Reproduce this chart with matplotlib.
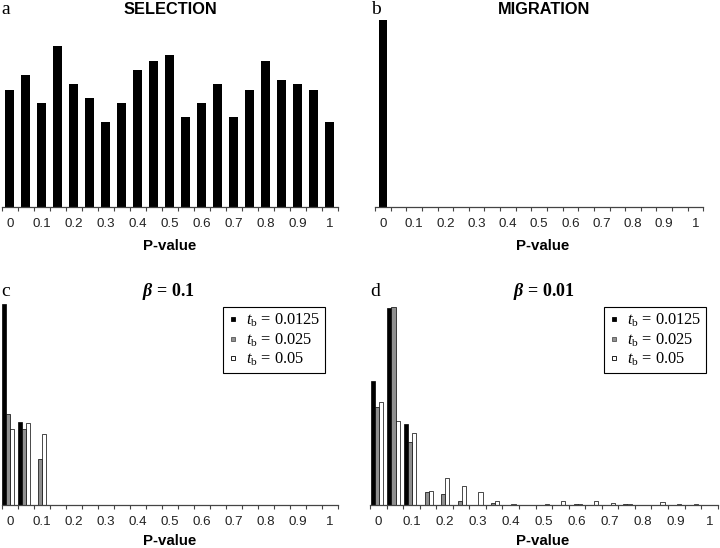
import numpy as np
import matplotlib
matplotlib.use("Agg")
import matplotlib.pyplot as plt
from matplotlib.lines import Line2D

# P-value bins (bin centres)
p_bins = [0, 0.05, 0.1, 0.15, 0.2, 0.25, 0.3, 0.35, 0.4, 0.45, 0.5,
          0.55, 0.6, 0.65, 0.7, 0.75, 0.8, 0.85, 0.9, 0.95, 1.0]
tick_labels = ["0", "0.1", "0.2", "0.3", "0.4", "0.5", "0.6", "0.7", "0.8", "0.9", "1"]

# a: selection
selection = [117.3, 131.7, 104, 160.7, 123, 108.7, 84.7, 104, 137.3, 146.3, 151.7,
             90, 104, 123, 90, 117.3, 146.3, 127.3, 123, 117.3, 84.7]
# b: migration
migration = [187, 0, 0, 0, 0, 0, 0, 0, 0, 0, 0, 0, 0, 0, 0, 0, 0, 0, 0, 0, 0]

# c: beta = 0.1
c_t0125 = [201, 83, 0, 0, 0, 0, 0, 0, 0, 0, 0, 0, 0, 0, 0, 0, 0, 0, 0, 0, 0]
c_t025 = [91, 76, 46, 0, 0, 0, 0, 0, 0, 0, 0, 0, 0, 0, 0, 0, 0, 0, 0, 0, 0]
c_t05 = [76, 82, 71, 0, 0, 0, 0, 0, 0, 0, 0, 0, 0, 0, 0, 0, 0, 0, 0, 0, 0]

# d: beta = 0.01
d_t0125 = [124, 196.7, 81, 0, 0, 0, 0, 0, 0, 0, 0, 0, 0, 0, 0, 0, 0, 0, 0, 0, 0]
d_t025 = [98, 198, 62.7, 13, 11.3, 4, 0, 2, 0, 0, 0, 0, 1, 0, 0, 1, 0, 0, 0, 0, 0]
d_t05 = [103, 84, 72, 14.3, 27, 19.3, 13, 4, 1, 0, 1, 4, 1, 4, 2, 1, 0, 3, 1, 1, 0]

legend_labels = [r"$t_{\mathrm{b}}$ = 0.0125", r"$t_{\mathrm{b}}$ = 0.025", r"$t_{\mathrm{b}}$ = 0.05"]
colors = ["#000000", "#8f8f8f", "#ffffff"]

plt.rcParams["font.family"] = ["Liberation Sans", "DejaVu Sans"]
plt.rcParams["mathtext.fontset"] = "custom"
plt.rcParams["mathtext.rm"] = "Liberation Serif"
plt.rcParams["mathtext.it"] = "Liberation Serif:italic"
plt.rcParams["mathtext.bf"] = "Liberation Serif:bold"
plt.rcParams["mathtext.bfit"] = "Liberation Serif:italic:bold"

W, H = 720, 548


def fx(x):
    return x / W


def fy(y):
    return 1 - y / H


def setup_axis(ax, ymax):
    for s in ["top", "left", "right"]:
        ax.spines[s].set_visible(False)
    ax.spines["bottom"].set_color("#444444")
    ax.spines["bottom"].set_linewidth(0.9)
    ax.set_xlim(-0.025, 1.025)
    ax.set_ylim(0, ymax)
    ax.set_yticks([])
    edges = [b - 0.025 for b in p_bins] + [p_bins[-1] + 0.025]
    ax.set_xticks(edges)
    ax.set_xticklabels([""] * len(edges))
    ax.set_xticks(p_bins[::2], tick_labels, minor=True)
    ax.tick_params(axis="x", which="major", direction="out", length=3.2,
                   width=0.8, color="#444444")
    ax.tick_params(axis="x", which="minor", length=0, pad=8,
                   labelsize=9.6, labelcolor="#222222")
    ax.patch.set_alpha(0)


def grouped_bars(ax, series):
    offsets = [-0.0165, -0.004, 0.0085]
    for vals, col, off in zip(series, colors, offsets):
        x = [b + off for b in p_bins]
        ax.bar(x, vals, width=0.0125, color=col, edgecolor="black", linewidth=0.5)


def add_legend(fig, ax, right_px):
    handles = [Line2D([], [], marker="s", ls="none", mfc=c, mec="black" if c != "#8f8f8f" else "#555555",
                      ms=3.5, mew=0.6) for c in colors]
    leg = ax.legend(handles, legend_labels, loc="upper right",
                    bbox_to_anchor=(fx(right_px), fy(307)), bbox_transform=fig.transFigure,
                    fancybox=False, edgecolor="black", framealpha=1, borderaxespad=0,
                    handlelength=0.6, handletextpad=0.5, labelspacing=0.12, borderpad=0.3,
                    prop={"family": "Liberation Serif", "size": 11.8})
    leg.get_frame().set_linewidth(0.8)


def main():
    fig = plt.figure(figsize=(7.2, 5.48), dpi=100)

    ax_a = fig.add_axes([fx(1.7), fy(207), fx(336), 187 / H])
    ax_b = fig.add_axes([fx(375), fy(207), fx(328.3), 187 / H])
    ax_c = fig.add_axes([fx(1.7), fy(505), fx(336.3), 201 / H])
    ax_d = fig.add_axes([fx(370), fy(505), fx(347.7), 201 / H])

    ax_a.bar(p_bins, selection, width=0.0275, color="black")
    setup_axis(ax_a, 187)
    ax_b.bar(p_bins, migration, width=0.0275, color="black")
    setup_axis(ax_b, 187)

    grouped_bars(ax_c, [c_t0125, c_t025, c_t05])
    setup_axis(ax_c, 201)
    add_legend(fig, ax_c, 325)

    grouped_bars(ax_d, [d_t0125, d_t025, d_t05])
    setup_axis(ax_d, 201)
    add_legend(fig, ax_d, 706)

    # titles
    sans_bold = dict(family="Liberation Sans", weight="bold", ha="center", va="baseline")
    fig.text(fx(170), fy(14), "SELECTION", size=11.8, **sans_bold)
    fig.text(fx(544), fy(14), "MIGRATION", size=11.8, **sans_bold)
    fig.text(fx(168), fy(295.5), r"$\mathbfit{\beta}$ = 0.1", size=13, family="Liberation Serif",
             weight="bold", ha="center", va="baseline")
    fig.text(fx(544), fy(295.5), r"$\mathbfit{\beta}$ = 0.01", size=13, family="Liberation Serif",
             weight="bold", ha="center", va="baseline")

    # x labels
    fig.text(fx(170), fy(250.5), "P-value", size=10.8, **sans_bold)
    fig.text(fx(543), fy(250.5), "P-value", size=10.8, **sans_bold)
    sans_bot = dict(sans_bold, va="bottom")
    fig.text(fx(170), fy(548), "P-value", size=10.8, **sans_bot)
    fig.text(fx(543), fy(548), "P-value", size=10.8, **sans_bot)

    # panel letters
    serif = dict(family="Liberation Serif", size=14, ha="left", va="baseline")
    fig.text(fx(1.5), fy(13.5), "a", **serif)
    fig.text(fx(371.5), fy(14.5), "b", **serif)
    fig.text(fx(1.5), fy(296.5), "c", **serif)
    fig.text(fx(370), fy(296), "d", **serif)

    fig.savefig("out.png", dpi=100)


if __name__ == "__main__":
    main()
